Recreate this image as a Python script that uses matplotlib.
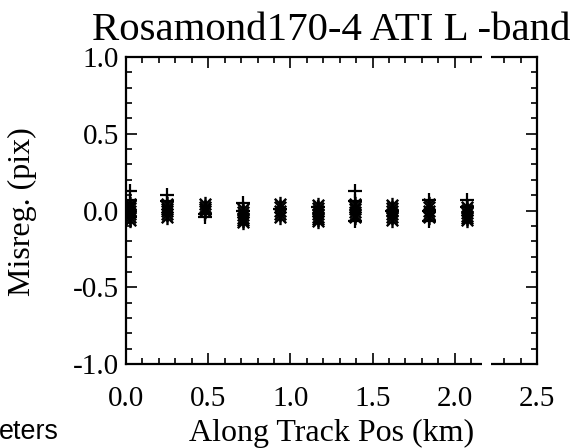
import matplotlib
matplotlib.use("Agg")
import matplotlib.pyplot as plt
from matplotlib.path import Path
from matplotlib.patches import Rectangle
from matplotlib.ticker import MultipleLocator
import matplotlib.transforms as mtransforms

# Along-track positions of the corner-reflector groups (km)
track_pos_km = [0.025, 0.25, 0.48, 0.71, 0.935, 1.165, 1.39, 1.62, 1.845, 2.075]

# Misregistration (pixels) per group, asterisk series
ast_misreg = [
    [0.045, 0.03, 0.015, 0.0, -0.02, -0.04, -0.06],
    [0.04, 0.025, 0.01, 0.0, -0.02, -0.04],
    [0.04, 0.025, 0.01, 0.0],
    [0.01, -0.01, -0.03, -0.05, -0.06, -0.075],
    [0.045, 0.025, 0.0, -0.02, -0.045],
    [0.035, 0.015, 0.0, -0.02, -0.04, -0.055, -0.07],
    [0.045, 0.025, 0.01, -0.01, -0.03, -0.045],
    [0.035, 0.015, -0.005, -0.025, -0.045, -0.065],
    [0.04, 0.02, 0.0, -0.02, -0.04],
    [0.025, 0.005, -0.015, -0.035, -0.05, -0.065],
]

# Misregistration (pixels) per group, plus series
plus_misreg = [
    [0.13, 0.07, -0.04],
    [0.10, 0.06],
    [-0.02, -0.04],
    [0.05, 0.0],
    [0.01],
    [0.02],
    [0.13, 0.06, -0.07],
    [0.0],
    [0.07, 0.0, -0.07],
    [0.07, 0.02],
]

title_text = "Rosamond170-4 ATI L -band"
x_label = "Along Track Pos (km)"
y_label = "Misreg. (pix)"
x_ticks = [0.0, 0.5, 1.0, 1.5, 2.0, 2.5]
y_ticks = [-1.0, -0.5, 0.0, 0.5, 1.0]

SERIF = ["Liberation Serif", "DejaVu Serif"]

W, H = 583, 448
fig = plt.figure(figsize=(W / 100, H / 100), dpi=100)
ax = fig.add_axes([126 / W, (H - 364) / H, 411 / W, 307 / H])

# asterisk: vertical stroke plus two diagonals
star = Path(
    [(0, -1), (0, 1), (-0.75, -0.75), (0.75, 0.75), (-0.75, 0.75), (0.75, -0.75)],
    [Path.MOVETO, Path.LINETO, Path.MOVETO, Path.LINETO, Path.MOVETO, Path.LINETO],
)

ax_x, ax_y = [], []
for xp, ys in zip(track_pos_km, ast_misreg):
    ax_x += [xp] * len(ys)
    ax_y += ys
px_x, px_y = [], []
for xp, ys in zip(track_pos_km, plus_misreg):
    px_x += [xp] * len(ys)
    px_y += ys

ax.plot(ax_x, ax_y, linestyle="none", marker=star, ms=11, mew=1.7,
        color="black", clip_on=True)
ax.plot(px_x, px_y, linestyle="none", marker="+", ms=10, mew=1.6,
        color="black", clip_on=True)

ax.set_xlim(0, 2.5)
ax.set_ylim(-1.0, 1.0)
ax.set_xticks(x_ticks)
ax.set_yticks(y_ticks)
ax.xaxis.set_minor_locator(MultipleLocator(0.1))
ax.yaxis.set_minor_locator(MultipleLocator(0.1))
ax.set_xticklabels([f"{v:.1f}" for v in x_ticks])
ax.set_yticklabels([f"{v:.1f}" for v in y_ticks])

ax.tick_params(which="both", direction="in", top=True, right=True,
               labeltop=False, labelright=False, width=1.2, color="black")
ax.tick_params(which="major", length=8)
ax.tick_params(which="minor", length=4)
ax.tick_params(axis="x", which="major", pad=16)
ax.tick_params(axis="y", which="major", pad=5)
for lab in ax.get_xticklabels() + ax.get_yticklabels():
    lab.set_fontfamily(SERIF)
    lab.set_fontsize(21)

for sp in ax.spines.values():
    sp.set_linewidth(1.6)

# break in the top and bottom frame lines
gap = mtransforms.blended_transform_factory(ax.transData, ax.transAxes)
for y0 in (-0.02, 0.965):
    ax.add_patch(Rectangle((2.165, y0), 0.055, 0.055, transform=gap,
                           facecolor="white", edgecolor="none",
                           clip_on=False, zorder=5))

fig.text(331.5 / W, (H - 40) / H, title_text, ha="center", va="baseline",
         family=SERIF, fontsize=29.4)
fig.text(331.5 / W, (H - 441) / H, x_label, ha="center", va="baseline",
         family=SERIF, fontsize=23)
fig.text(22 / W, (H - 212) / H, y_label, ha="center", va="center",
         rotation=90, family=SERIF, fontsize=23)
fig.text(-1 / W, (H - 439) / H, "eters", ha="left", va="baseline",
         family=["Liberation Sans", "DejaVu Sans"], fontsize=19.4)

fig.savefig("out.png", dpi=100)
